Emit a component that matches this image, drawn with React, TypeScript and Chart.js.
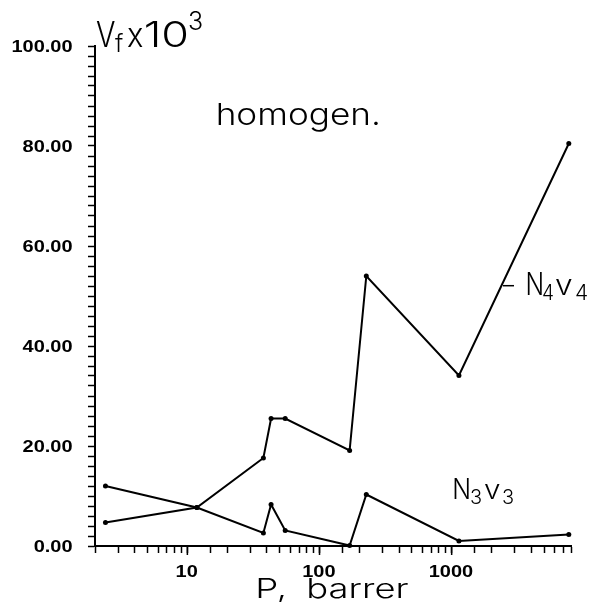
import React, { useEffect, useRef } from 'react';
import { Chart, registerables } from 'chart.js';

Chart.register(...registerables);

// Pressure P (barrer), shared by both series
const pressures = [2.4, 11.8, 37.6, 43, 55, 169, 226, 1135, 7700];
// Vf x 10^3 values
const n4v4 = [4.7, 7.7, 17.6, 25.5, 25.5, 19.1, 54.0, 34.1, 80.5];
const n3v3 = [12.0, 7.7, 2.6, 8.3, 3.1, 0.1, 10.3, 1.0, 2.3];

const yMajorTicks = [0, 20, 40, 60, 80, 100];
const yTickLabels = ['0.00', '20.00', '40.00', '60.00', '80.00', '100.00'];
const xMajorTicks = [10, 100, 1000];
const xTickLabels = ['10', '100', '1000'];

const TICK_FONT = 'bold 16px "Liberation Sans", Arial, sans-serif';
const BIG = (size: number) => `300 ${size}px Inter, "Open Sans", "Liberation Sans", sans-serif`;

function ink(ctx: CanvasRenderingContext2D, text: string, font: string) {
  ctx.font = font;
  const m = ctx.measureText(text);
  return { l: m.actualBoundingBoxLeft, w: m.actualBoundingBoxLeft + m.actualBoundingBoxRight, a: m.actualBoundingBoxAscent };
}

// draw text so its ink starts at `left` and spans `width`
function drawFit(ctx: CanvasRenderingContext2D, text: string, left: number, baseline: number, font: string, width: number) {
  const b = ink(ctx, text, font);
  const s = width / b.w;
  ctx.save();
  ctx.font = font;
  ctx.textAlign = 'left';
  ctx.textBaseline = 'alphabetic';
  ctx.translate(left + b.l * s, baseline);
  ctx.scale(s, 1);
  ctx.fillText(text, 0, 0);
  ctx.restore();
}

const textPlugin = {
  id: 'texts',
  afterDraw(chart: any) {
    const ctx: CanvasRenderingContext2D = chart.ctx;
    const xs = chart.scales.x;
    const ys = chart.scales.y;
    ctx.save();
    ctx.fillStyle = '#000';
    ctx.strokeStyle = '#000';

    // tick label scale: "100.00" spans ~60px
    const ref = ink(ctx, '100.00', TICK_FONT);
    const s = 60 / ref.w;
    const capH = ink(ctx, '0', TICK_FONT).a;

    yMajorTicks.forEach((v, i) => {
      const py = ys.getPixelForValue(v);
      const b = ink(ctx, yTickLabels[i], TICK_FONT);
      drawFit(ctx, yTickLabels[i], 72.7 - b.w * s, py + capH / 2, TICK_FONT, b.w * s);
    });
    xMajorTicks.forEach((v, i) => {
      const px = xs.getPixelForValue(v);
      const b = ink(ctx, xTickLabels[i], TICK_FONT);
      drawFit(ctx, xTickLabels[i], px - (b.w * s) / 2, 577, TICK_FONT, b.w * s);
      // longer major tick
      ctx.lineWidth = 1.5;
      ctx.beginPath();
      ctx.moveTo(px, xs.top);
      ctx.lineTo(px, xs.top + 9);
      ctx.stroke();
    });

    // y-axis title: V_f x 10^3
    drawFit(ctx, 'V', 96, 46.7, BIG(35), 19);
    drawFit(ctx, 'f', 115, 51.7, BIG(24), 8);
    drawFit(ctx, 'x', 128, 46.7, BIG(35), 15);
    drawFit(ctx, '10', 145, 46.7, BIG(35), 42);
    drawFit(ctx, '3', 189, 30, BIG(25), 13);

    // homogen.
    drawFit(ctx, 'homogen.', 218, 125, BIG(30), 160);

    // N4v4 label with leader
    ctx.lineWidth = 1.5;
    ctx.beginPath();
    ctx.moveTo(503, 285.7);
    ctx.lineTo(514, 285.7);
    ctx.stroke();
    drawFit(ctx, 'N', 527, 295, BIG(31), 15);
    drawFit(ctx, '4', 543, 300, BIG(21), 10);
    drawFit(ctx, 'v', 555, 295, BIG(28), 17);
    drawFit(ctx, '4', 576, 300, BIG(21), 11);

    // N3v3 label
    drawFit(ctx, 'N', 454, 499, BIG(28), 15);
    drawFit(ctx, '3', 471, 503.5, BIG(20), 10);
    drawFit(ctx, 'v', 484, 499, BIG(26), 16);
    drawFit(ctx, '3', 503, 503.5, BIG(20), 10);

    // x-axis title
    drawFit(ctx, 'P,', 258, 598, BIG(27), 27);
    drawFit(ctx, 'barrer', 309, 598, BIG(27), 100);

    ctx.restore();
  },
};

export default function App() {
  const ref = useRef<HTMLCanvasElement>(null);
  useEffect(() => {
    if (!ref.current) return;
    const ds = (vals: number[]) => ({
      data: pressures.map((p, i) => ({ x: p, y: vals[i] })),
      borderColor: '#000',
      backgroundColor: '#000',
      borderWidth: 2,
      pointRadius: 2.5,
      pointBorderWidth: 0,
      pointBackgroundColor: '#000',
      tension: 0,
      fill: false,
      clip: false as any,
    });
    const axisCommon = {
      grid: { drawOnChartArea: false, drawTicks: true, tickLength: 7, tickColor: '#000', tickWidth: 1.5 },
      border: { display: true, color: '#000', width: 2 },
    };
    const chart = new Chart(ref.current, {
      type: 'line',
      data: { datasets: [ds(n4v4), ds(n3v3)] },
      options: {
        responsive: false,
        animation: false,
        layout: { padding: { left: 0, top: 46, right: 27, bottom: 0 } },
        plugins: { legend: { display: false }, tooltip: { enabled: false } },
        scales: {
          x: {
            type: 'logarithmic',
            min: 2,
            max: 8000,
            afterFit: (s: any) => { s.height = 63; },
            ...axisCommon,
            ticks: { display: false },
          },
          y: {
            type: 'linear',
            min: 0,
            max: 100,
            afterFit: (s: any) => { s.width = 95; },
            ...axisCommon,
            ticks: { display: false, stepSize: 2 },
          },
        },
      } as any,
      plugins: [textPlugin],
    });
    return () => chart.destroy();
  }, []);
  return (
    <div style={{ position: 'fixed', left: 0, top: 0, width: 598, height: 609, background: '#fff' }}>
      <canvas ref={ref} width={598} height={609} />
    </div>
  );
}
